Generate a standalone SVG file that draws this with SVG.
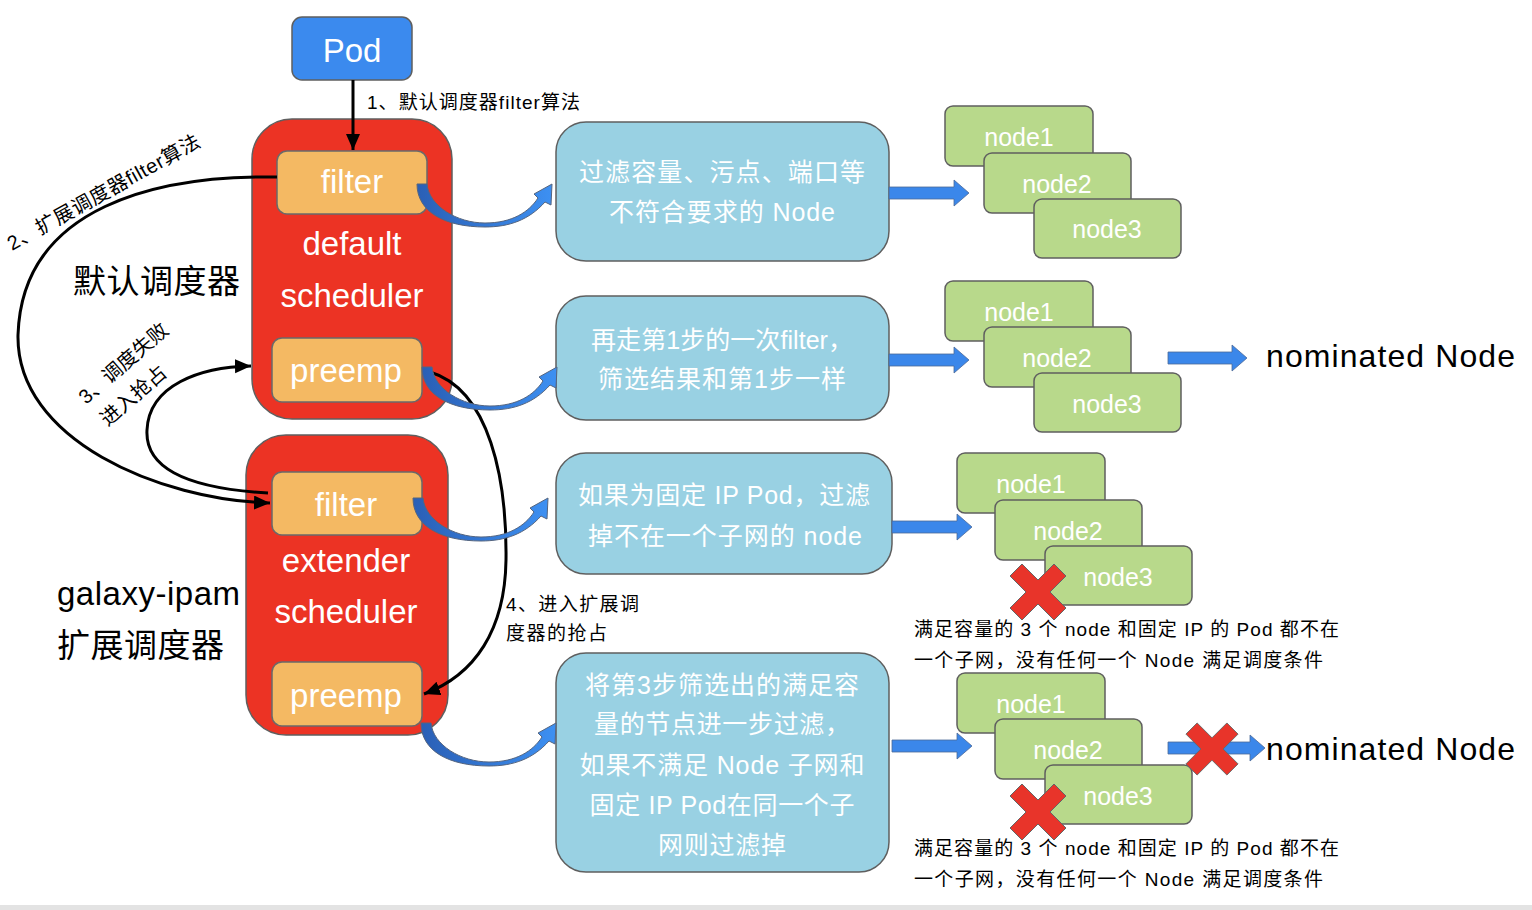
<svg xmlns="http://www.w3.org/2000/svg" width="1532" height="910" viewBox="0 0 1532 910">
<defs>
<style>
text{font-family:'Liberation Sans','Noto Sans CJK SC',sans-serif}
.big{font-size:33px;fill:#fff;text-anchor:middle}
.red{fill:#ec3324;stroke:#5f5f5f;stroke-width:1.5}
.org{fill:#f4b963;stroke:#6a6a6a;stroke-width:1.5}
.blu{fill:#99d1e3;stroke:#5f5f5f;stroke-width:1.5}
.grn{fill:#b8d98b;stroke:#5f5f5f;stroke-width:1.5}
.pod{fill:#3b8aee;stroke:#5f5f5f;stroke-width:1.5}
.bt{font-size:25px;fill:#fff;text-anchor:middle}
.nt{font-size:25px;fill:#fff;text-anchor:middle}
.lbl{font-size:19px;fill:#000}
.lbl2{font-size:20px;fill:#000}
.cap{font-size:19px;fill:#000}
.side{font-size:33px;fill:#000}
.nom{font-size:32px;fill:#000}
.con{fill:none;stroke:#000;stroke-width:3}
.barrow{fill:#3b87ea;stroke:#4c6a98;stroke-width:0.8}
.curv{fill:url(#cg);stroke:#55657f;stroke-width:1}
.x{fill:#e8342a;stroke:#666;stroke-width:1}
</style>
<marker id="ah" markerUnits="userSpaceOnUse" markerWidth="18" markerHeight="16" refX="16" refY="7" orient="auto"><path d="M0,0 L16,7 L0,14 Z" fill="#000"/></marker>
<linearGradient id="cg" x1="0" y1="0" x2="1" y2="0"><stop offset="0" stop-color="#2a5fb5"/><stop offset="1" stop-color="#3d90f2"/></linearGradient>
<path id="curvp" d="M0,0 L10,0 C12,22 40,39 68,39 C95,39 112,28 121,14 L117,10 L135,0 L134,21 L128,18 C112,36 92,43 68,43 C28,43 0,28 0,0 Z"/>
<path id="xp" d="M-28,-16 L-16,-28 L0,-12 L16,-28 L28,-16 L12,0 L28,16 L16,28 L0,12 L-16,28 L-28,16 L-12,0 Z"/>
</defs>
<rect x="0" y="0" width="1532" height="910" fill="#fff"/>
<rect x="0" y="905" width="1532" height="5" fill="#e3e3e3"/>

<g id="pod"><rect class="pod" x="292" y="17" width="120" height="63" rx="10"/><text class="big" x="352" y="62">Pod</text></g>

<g id="default-scheduler">
<rect class="red" x="252" y="119" width="200" height="300" rx="40"/>
<text class="big" x="352" y="255">default</text>
<text class="big" x="352" y="307">scheduler</text>
</g>
<g id="filter1"><rect class="org" x="277" y="151" width="150" height="63" rx="10"/><text class="big" x="352" y="193">filter</text></g>
<g id="preemp1"><rect class="org" x="272" y="338" width="150" height="64" rx="10"/><text class="big" x="346" y="382">preemp</text></g>

<g id="extender-scheduler">
<rect class="red" x="246" y="435" width="202" height="300" rx="40"/>
<text class="big" x="346" y="572">extender</text>
<text class="big" x="346" y="623">scheduler</text>
</g>
<g id="filter2"><rect class="org" x="272" y="472" width="150" height="63" rx="10"/><text class="big" x="346" y="516">filter</text></g>
<g id="preemp2"><rect class="org" x="272" y="662" width="150" height="64" rx="10"/><text class="big" x="346" y="707">preemp</text></g>

<g id="side-labels">
<text class="side" x="73" y="293" textLength="167">默认调度器</text>
<text class="side" x="57" y="605" textLength="183">galaxy-ipam</text>
<text class="side" x="57" y="657" textLength="167">扩展调度器</text>
</g>

<g id="box1"><rect class="blu" x="556" y="122" width="333" height="139" rx="30"/>
<text class="bt" x="722" y="181" textLength="286">过滤容量、污点、端口等</text>
<text class="bt" x="722" y="221" textLength="226">不符合要求的 Node</text></g>
<g id="box2"><rect class="blu" x="556" y="296" width="333" height="124" rx="30"/>
<text class="bt" x="722" y="349" textLength="262">再走第1步的一次filter，</text>
<text class="bt" x="722" y="388" textLength="248">筛选结果和第1步一样</text></g>
<g id="box3"><rect class="blu" x="556" y="453" width="336" height="121" rx="30"/>
<text class="bt" x="724" y="504" textLength="292">如果为固定 IP Pod，过滤</text>
<text class="bt" x="725" y="545" textLength="274">掉不在一个子网的 node</text></g>
<g id="box4"><rect class="blu" x="556" y="653" width="333" height="219" rx="30"/>
<text class="bt" x="722" y="694" textLength="274">将第3步筛选出的满足容</text>
<text class="bt" x="722" y="733" textLength="256">量的节点进一步过滤，</text>
<text class="bt" x="722" y="774" textLength="285">如果不满足 Node 子网和</text>
<text class="bt" x="722" y="814" textLength="265">固定 IP Pod在同一个子</text>
<text class="bt" x="722" y="854" textLength="128">网则过滤掉</text></g>

<g id="stack1">
<rect class="grn" x="945" y="106" width="148" height="60" rx="8"/><text class="nt" x="1019" y="146">node1</text>
<rect class="grn" x="984" y="153" width="147" height="60" rx="8"/><text class="nt" x="1057" y="193">node2</text>
<rect class="grn" x="1034" y="199" width="147" height="59" rx="8"/><text class="nt" x="1107" y="238">node3</text>
</g>
<g id="stack2">
<rect class="grn" x="945" y="281" width="148" height="60" rx="8"/><text class="nt" x="1019" y="321">node1</text>
<rect class="grn" x="984" y="327" width="147" height="60" rx="8"/><text class="nt" x="1057" y="367">node2</text>
<rect class="grn" x="1034" y="373" width="147" height="59" rx="8"/><text class="nt" x="1107" y="413">node3</text>
</g>
<g id="stack3">
<rect class="grn" x="957" y="453" width="148" height="60" rx="8"/><text class="nt" x="1031" y="493">node1</text>
<rect class="grn" x="995" y="500" width="147" height="60" rx="8"/><text class="nt" x="1068" y="540">node2</text>
<rect class="grn" x="1045" y="546" width="147" height="59" rx="8"/><text class="nt" x="1118" y="586">node3</text>
<use href="#xp" class="x" transform="translate(1038,592)"/>
</g>
<g id="stack4">
<rect class="grn" x="957" y="673" width="148" height="60" rx="8"/><text class="nt" x="1031" y="713">node1</text>
<rect class="grn" x="995" y="719" width="147" height="60" rx="8"/><text class="nt" x="1068" y="759">node2</text>
<rect class="grn" x="1045" y="765" width="147" height="59" rx="8"/><text class="nt" x="1118" y="805">node3</text>
<use href="#xp" class="x" transform="translate(1038,812)"/>
</g>

<g id="nominated1"><text class="nom" x="1266" y="367" textLength="249">nominated Node</text></g>
<g id="nominated2"><text class="nom" x="1266" y="760" textLength="249">nominated Node</text></g>

<g id="captions">
<text class="cap" x="914" y="636" textLength="425">满足容量的 3 个 node 和固定 IP 的 Pod 都不在</text>
<text class="cap" x="914" y="667" textLength="409">一个子网，没有任何一个 Node 满足调度条件</text>
<text class="cap" x="914" y="855" textLength="425">满足容量的 3 个 node 和固定 IP 的 Pod 都不在</text>
<text class="cap" x="914" y="886" textLength="409">一个子网，没有任何一个 Node 满足调度条件</text>
</g>

<g id="connectors">
<path class="con" d="M353,80 L353,150" marker-end="url(#ah)"/>
<path class="con" d="M277,177 C160,175 22,205 18,335 C16,440 160,500 270,503" marker-end="url(#ah)"/>
<path class="con" d="M268,493 C180,488 145,465 147,430 C149,385 200,367 251,366" marker-end="url(#ah)"/>
<path class="con" d="M430,372 C490,390 507,480 506,560 C505,630 475,675 424,694" marker-end="url(#ah)"/>
<use href="#curvp" class="curv" transform="translate(417,184)"/>
<use href="#curvp" class="curv" transform="translate(422,367)"/>
<use href="#curvp" class="curv" transform="translate(413,498)"/>
<use href="#curvp" class="curv" transform="translate(421,723)"/>
<path class="barrow" transform="translate(889,193)" d="M0,-6 H65 V-13 L80,0 L65,13 V6 H0 Z"/>
<path class="barrow" transform="translate(889,360)" d="M0,-6 H65 V-13 L80,0 L65,13 V6 H0 Z"/>
<path class="barrow" transform="translate(892,527)" d="M0,-6 H65 V-13 L80,0 L65,13 V6 H0 Z"/>
<path class="barrow" transform="translate(892,746)" d="M0,-6 H65 V-13 L80,0 L65,13 V6 H0 Z"/>
<path class="barrow" transform="translate(1168,358)" d="M0,-6 H64 V-13 L79,0 L64,13 V6 H0 Z"/>
<path class="barrow" transform="translate(1168,748)" d="M0,-6 H82 V-13 L97,0 L82,13 V6 H0 Z"/>
<use href="#xp" class="x" transform="translate(1212,749) scale(0.93)"/>
</g>

<g id="connector-labels">
<text class="lbl" x="367" y="109" textLength="213">1、默认调度器filter算法</text>
<text class="lbl2" transform="translate(12,251) rotate(-29)" textLength="217">2、扩展调度器filter算法</text>
<g transform="translate(86,405) rotate(-41)">
<text class="lbl2" x="0" y="0">3、调度失败</text>
<text class="lbl2" x="2" y="31">进入抢占</text>
</g>
<text class="lbl" x="506" y="611" textLength="133">4、进入扩展调</text>
<text class="lbl" x="506" y="640" textLength="101">度器的抢占</text>
</g>
</svg>
